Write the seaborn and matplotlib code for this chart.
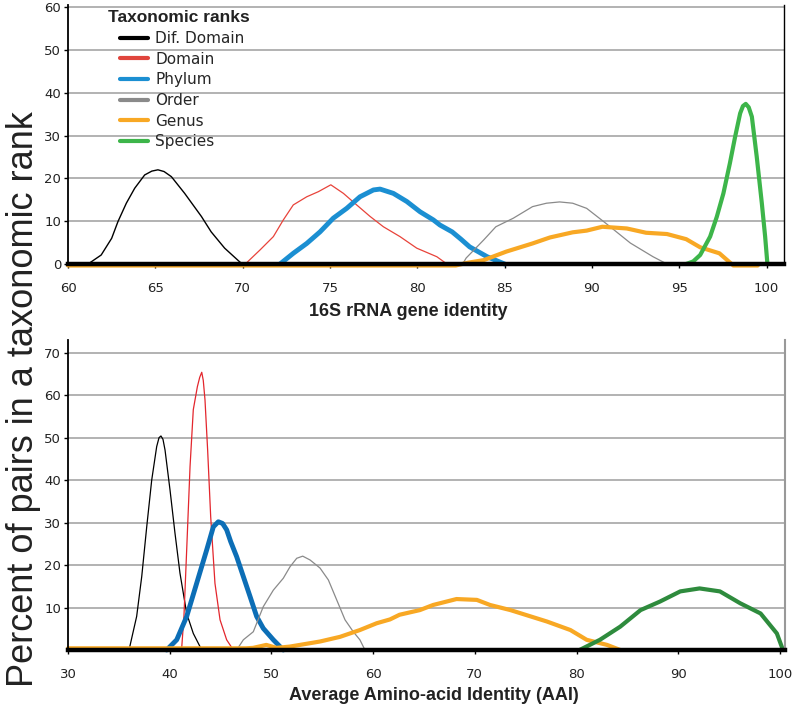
import numpy as np
import pandas as pd
import matplotlib
matplotlib.use("Agg")
import matplotlib.pyplot as plt
from matplotlib.lines import Line2D
import seaborn as sns

# Datos: 16S rRNA (panel superior)
rrna_difdom_x = [61.15, 61.9, 62.5, 62.86, 63.34, 63.82, 64.39, 64.8, 65.15, 65.5, 65.92, 66.68, 67.64,
                 68.2, 68.97, 69.83, 70.0]
rrna_difdom_y = [0, 2.1, 6, 9.9, 14.2, 17.7, 20.8, 21.7, 22, 21.6, 20.4, 16.5, 11.1,
                 7.5, 3.7, 0.5, 0]
rrna_domain_x = [70.1, 70.23, 71, 71.76, 72.33, 72.9, 73.67, 74.34, 75.05, 75.77, 76.53, 77.3, 78.06,
                 79.01, 79.97, 81.12, 81.7]
rrna_domain_y = [0, 0.3, 3.3, 6.4, 10.3, 13.8, 15.7, 16.9, 18.5, 16.5, 13.8, 11.1, 8.7,
                 6.4, 3.7, 1.7, 0]
rrna_phylum_x = [72.14, 72.9, 73.67, 74.43, 75.19, 75.96, 76.72, 77.49, 77.87, 78.63, 79.4, 80.16,
                 80.92, 81.3, 82, 82.5, 83, 84, 85]
rrna_phylum_y = [0, 2.5, 4.8, 7.5, 10.7, 13, 15.7, 17.3, 17.5, 16.5, 14.6, 12.2,
                 10.3, 9.1, 7.5, 5.8, 4.0, 1.7, 0]
rrna_order_x = [82.6, 82.8, 83.8, 84.5, 85.5, 86.6, 87.4, 88.15, 88.9, 89.7, 90.8, 92.2, 93.5, 94.3]
rrna_order_y = [0, 1.4, 5.6, 8.7, 10.7, 13.4, 14.2, 14.5, 14.2, 13, 9.5, 4.9, 1.7, 0]
rrna_genus_x = [60, 82.2, 82.9, 83.8, 85.1, 86.6, 87.6, 88.9, 89.7, 90.6, 92, 93.1, 94.3, 95.4, 96.2,
                97.3, 98.1, 99.5]
rrna_genus_y = [-0.35, -0.35, 0.3, 0.9, 2.9, 4.8, 6.2, 7.4, 7.8, 8.7, 8.3, 7.3, 7.0, 5.8, 3.9,
                2.5, -0.35, -0.35]
rrna_species_x = [95.4, 95.8, 96.2, 96.77, 97.15, 97.53, 97.9, 98.2, 98.49, 98.65, 98.81, 98.98, 99.16,
                  99.44, 99.73, 99.92, 100.05]
rrna_species_y = [0, 0.6, 2.1, 6.4, 11, 16.5, 23.5, 29.7, 35.2, 36.9, 37.4, 36.6, 34.4,
                  25, 14.2, 6.4, 0]

# Datos: AAI (panel inferior)
aai_difdom_x = [36.0, 36.75, 37.25, 37.74, 38.23, 38.72, 38.95, 39.14, 39.34, 39.54, 40.03, 40.52,
                41.01, 41.67, 42.32, 43.15]
aai_difdom_y = [0, 7.9, 17.3, 29, 40, 47.9, 50, 50.4, 49.6, 47.1, 37.7, 27.5,
                18.1, 8.6, 3.9, 0]
aai_domain_x = [41.18, 41.4, 41.67, 42.0, 42.32, 42.72, 42.95, 43.15, 43.3, 43.47, 43.73, 44.03,
                44.45, 44.95, 45.6, 46.26]
aai_domain_y = [0.5, 7.9, 23.6, 43.2, 56.6, 62, 64.2, 65.4, 63.5, 58.9, 47.1, 31.4,
                15.7, 7.1, 2.4, 0]
aai_phylum_x = [39.7, 40.69, 41.67, 42.65, 43.64, 44.29, 44.78, 45.2, 45.6, 46.0, 46.58, 47.24,
                47.9, 48.55, 49.2, 50.19, 51.17]
aai_phylum_y = [0, 2.4, 7.9, 15.7, 23.6, 29, 30.2, 29.8, 28.3, 25.5, 22, 17.3,
                12.6, 7.9, 5.1, 2.4, 0]
aai_order_x = [46.58, 47.24, 48.22, 49.2, 50.19, 51.17, 51.83, 52.49, 53.08, 53.8, 54.78, 55.6,
               56.42, 57.24, 58.05, 58.7, 59.2]
aai_order_y = [0, 2.4, 4.3, 10.2, 14.1, 16.9, 19.6, 21.6, 22.1, 21.2, 19.3, 16.5,
               11.8, 7.1, 4.3, 2.4, 0]
aai_genus_x = [30, 47.5, 48.2, 49.5, 50.5, 51.8, 52.8, 54.78, 56.75, 58.7, 60.35, 61.66, 62.6, 64.6,
               65.9, 68.2, 70.2, 71.5, 73.5, 75.5, 77.1, 79.4, 81, 83, 84.3]
aai_genus_y = [0.4, 0.4, 0.5, 1.2, 0.5, 0.8, 1.2, 2.0, 3.1, 4.7, 6.3, 7.2, 8.3, 9.4,
               10.6, 12, 11.8, 10.6, 9.4, 7.9, 6.7, 4.7, 2.4, 1.2, 0]
aai_species_x = [80.3, 82.3, 84.3, 86.3, 88.2, 90.2, 92.1, 94.1, 96.1, 98.1, 99.7, 100.3]
aai_species_y = [0, 2.4, 5.5, 9.4, 11.4, 13.8, 14.5, 13.8, 11, 8.6, 3.9, 0]

rangos = ["Dif. Domain", "Domain", "Phylum", "Order", "Genus", "Species"]
colores_leyenda = ["#000000", "#e0453d", "#1b8fd2", "#8a8a8a", "#f8a824", "#3db54a"]

sns.set_theme(style="white")
plt.rcParams["font.family"] = ["DejaVu Sans"]

fig = plt.figure(figsize=(7.92, 7.04), dpi=100)
ax1 = fig.add_axes([68 / 792, 1 - 264 / 704, 716 / 792, 259 / 704])
ax2 = fig.add_axes([68 / 792, 1 - 650 / 704, 717 / 792, 310 / 704])

series_arriba = [
    (rrna_difdom_x, rrna_difdom_y, "#000000", 1.0),
    (rrna_domain_x, rrna_domain_y, "#e8433a", 0.9),
    (rrna_phylum_x, rrna_phylum_y, "#1b8fd2", 3.5),
    (rrna_order_x, rrna_order_y, "#8a8a8a", 0.9),
    (rrna_genus_x, rrna_genus_y, "#f8a824", 3.0),
    (rrna_species_x, rrna_species_y, "#3db54a", 3.0),
]
series_abajo = [
    (aai_difdom_x, aai_difdom_y, "#000000", 0.9),
    (aai_domain_x, aai_domain_y, "#e3262d", 0.9),
    (aai_phylum_x, aai_phylum_y, "#0c6eb6", 3.5),
    (aai_order_x, aai_order_y, "#8a8a8a", 0.9),
    (aai_genus_x, aai_genus_y, "#f8a824", 3.0),
    (aai_species_x, aai_species_y, "#2e8b3d", 3.0),
]

for ax, series in [(ax1, series_arriba), (ax2, series_abajo)]:
    for xs, ys, col, lw in series:
        sns.lineplot(x=xs, y=ys, ax=ax, color=col, linewidth=lw, estimator=None)
    for ln in ax.get_lines():
        ln.set_clip_on(False)
        ln.set_solid_joinstyle("round")
    ax.grid(axis="y", color="#a6a6a6", linewidth=1.2)
    ax.grid(axis="x", visible=False)
    ax.set_axisbelow(True)
    ax.spines["top"].set_visible(False)
    ax.spines["bottom"].set_linewidth(3.2)
    ax.spines["bottom"].set_color("black")
    ax.spines["bottom"].set_zorder(5)
    ax.spines["left"].set_color("black")
    ax.spines["left"].set_linewidth(1.3)
    ax.tick_params(axis="both", direction="out", length=3, width=1, color="black",
                   labelsize=9.5, labelcolor="#222222", bottom=True, left=True)
    ax.tick_params(axis="x", pad=10)
    ax.tick_params(axis="y", pad=2)

# Panel superior
ax1.set_xlim(60, 101)
ax1.set_ylim(0, 60.5)
ax1.set_xticks(np.arange(60, 101, 5))
ax1.set_yticks(np.arange(0, 61, 10))
ax1.spines["right"].set_color("black")
ax1.spines["right"].set_linewidth(1.0)
ax1.set_xlabel("16S rRNA gene identity", fontfamily="Liberation Sans",
               fontweight="bold", fontsize=13, color="#222222")
ax1.xaxis.set_label_coords(0.475, -0.15)

# Panel inferior
ax2.set_xlim(30, 100.5)
ax2.set_ylim(0, 73)
ax2.set_xticks(np.arange(30, 101, 10))
ax2.set_yticks(np.arange(10, 71, 10))
ax2.spines["right"].set_color("#999999")
ax2.spines["right"].set_linewidth(1.5)
ax2.set_xlabel("Average Amino-acid Identity (AAI)", fontfamily="Liberation Sans",
               fontweight="bold", fontsize=13, color="#222222")
ax2.xaxis.set_label_coords(0.51, -0.118)

# Leyenda
handles = [Line2D([0], [0], color=c, lw=3) for c in colores_leyenda]
ax1.legend(handles, rangos, loc="upper left", bbox_to_anchor=(0.0726, 0.90),
           frameon=False, fontsize=11, handlelength=1.85, handletextpad=0.45,
           labelspacing=0.37, borderpad=0, borderaxespad=0)
ax1.text(0.0559, 0.95, "Taxonomic ranks", transform=ax1.transAxes, ha="left", va="center",
         fontfamily="Liberation Sans", fontweight="bold", fontsize=12.5, color="#222222")

fig.text(33 / 792, 1 - 399 / 704, "Percent of pairs in a taxonomic rank", rotation=90,
         rotation_mode="anchor", ha="center", va="baseline",
         fontfamily="Liberation Sans", fontsize=26, color="#222222")

fig.savefig("out.png", dpi=100, facecolor="white")
